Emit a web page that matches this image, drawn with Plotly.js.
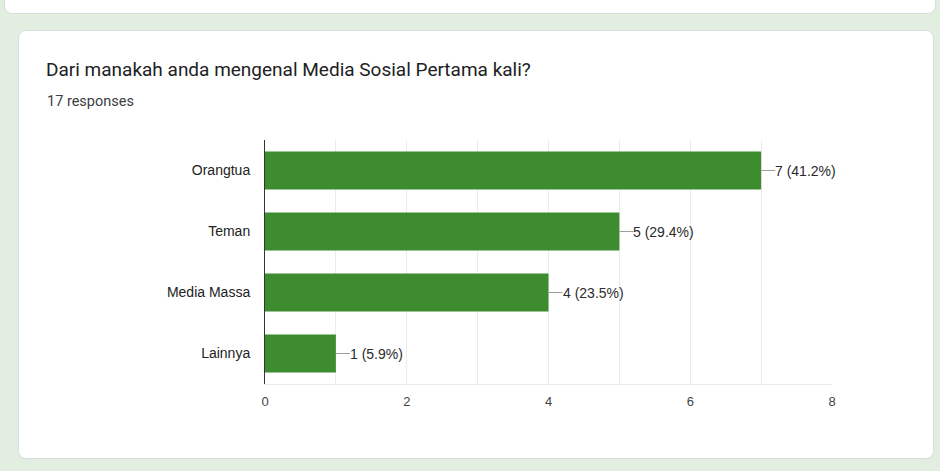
<!DOCTYPE html>
<html>
<head>
<meta charset="utf-8">
<script src="https://cdn.plot.ly/plotly-3.0.1.min.js"></script>
<style>
  html, body { margin:0; padding:0; }
  body { width:940px; height:471px; background:#e2eee0; position:relative; overflow:hidden; font-family: Roboto, Arial, sans-serif; }
  .card { position:absolute; background:#fff; border:1px solid #d9dde0; border-radius:8px; box-sizing:border-box; }
  #c1 { left:4px; top:-20px; width:932px; height:34px; }
  #c2 { left:18px; top:30px; width:916px; height:429px; }
  #chart { position:absolute; left:0; top:0; width:940px; height:471px; }
</style>
</head>
<body>
<div class="card" id="c1"></div>
<div class="card" id="c2"></div>
<div id="chart"></div>
<script>
const categories = ["Orangtua", "Teman", "Media Massa", "Lainnya"];
const counts = [7, 5, 4, 1];
const percents = ["41.2%", "29.4%", "23.5%", "5.9%"];
const titleText = "Dari manakah anda mengenal Media Sosial Pertama kali?";
const subtitleText = "17 responses";
const xTicks = [0, 2, 4, 6, 8];

const trace = {
  type: "bar",
  orientation: "h",
  x: counts,
  y: categories,
  marker: { color: "#3d8c30" },
  hoverinfo: "none"
};

const annotations = categories.map((c, i) => ({
  x: counts[i], y: c, xref: "x", yref: "y",
  text: counts[i] + " (" + percents[i] + ")",
  showarrow: true, arrowhead: 0, arrowwidth: 1, arrowcolor: "#9e9e9e",
  ax: 14, ay: 0, xanchor: "left", borderpad: 0, borderwidth: 0,
  font: { family: "Arial, Liberation Sans, sans-serif", size: 14, color: "#2b2b2b" }
}));
annotations.push({
  xref: "paper", yref: "paper", x: (45 - 265) / 567, y: 1 + (140 - 102) / 244,
  xanchor: "left", yanchor: "middle", showarrow: false,
  text: subtitleText,
  font: { family: "Roboto, Arial, sans-serif", size: 14.5, color: "#3c4043" }
});

const layout = {
  width: 940, height: 471,
  margin: { l: 265, r: 108, t: 140, b: 87 },
  paper_bgcolor: "rgba(0,0,0,0)",
  plot_bgcolor: "rgba(0,0,0,0)",
  showlegend: false,
  bargap: 0.38,
  title: {
    text: titleText,
    xref: "container", yref: "container",
    x: 46 / 940, xanchor: "left",
    y: 1 - 69 / 471, yanchor: "middle",
    font: { family: "Roboto, Arial, sans-serif", size: 19, color: "#202124" }
  },
  xaxis: {
    range: [0, 8],
    tickvals: xTicks,
    ticktext: xTicks.map(String),
    showgrid: true, gridcolor: "#ebebeb", gridwidth: 1,
    minor: { dtick: 1, showgrid: true, gridcolor: "#ebebeb", gridwidth: 1 },
    zeroline: false,
    showline: true, linecolor: "#ebebeb", linewidth: 1,
    ticks: "", ticklabelstandoff: 5,
    tickfont: { family: "Arial, Liberation Sans, sans-serif", size: 13, color: "#444444" },
    fixedrange: true
  },
  yaxis: {
    type: "category",
    autorange: "reversed",
    showgrid: false, zeroline: false,
    showline: true, linecolor: "#333333", linewidth: 1,
    ticks: "", ticklabelstandoff: 11,
    tickfont: { family: "Arial, Liberation Sans, sans-serif", size: 14, color: "#222222" },
    fixedrange: true
  },
  annotations: annotations
};

Plotly.newPlot("chart", [trace], layout, { displayModeBar: false, staticPlot: true });
</script>
</body>
</html>
